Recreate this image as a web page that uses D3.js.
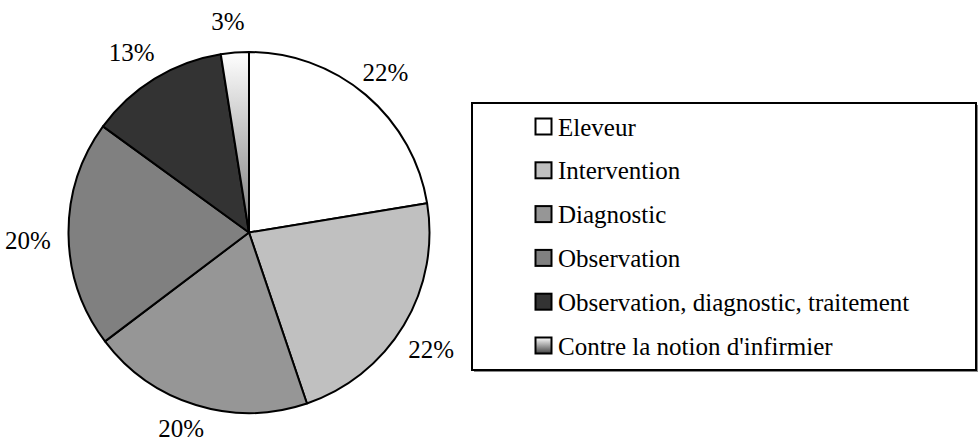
<html><head><meta charset="utf-8"><script src="https://d3js.org/d3.v7.min.js"></script></head>
<body style="margin:0">
<script>
  var width = 978;
  var height = 441;

  // data
  var categories = ["Eleveur", "Intervention", "Diagnostic", "Observation",
                    "Observation, diagnostic, traitement", "Contre la notion d'infirmier"];
  var values = [22.4, 22.4, 19.9, 20.3, 12.5, 2.5];
  var fills = ["#ffffff", "#c0c0c0", "#969696", "#808080", "#333333", "url(#gradSlice)"];
  var legendFills = ["#ffffff", "#c0c0c0", "#969696", "#808080", "#333333", "url(#gradKey)"];

  var font = "'Times New Roman', 'Liberation Serif', Tinos, serif";

  var svg = d3.select("body")
    .append("svg")
    .attr("width", width)
    .attr("height", height)
    .style("font-family", font);

  var defs = svg.append("defs");
  var g1 = defs.append("linearGradient").attr("id", "gradSlice")
    .attr("x1", 0).attr("y1", 0).attr("x2", 0).attr("y2", 1);
  g1.append("stop").attr("offset", "0%").attr("stop-color", "#ffffff");
  g1.append("stop").attr("offset", "100%").attr("stop-color", "#7a7a7a");
  var g2 = defs.append("linearGradient").attr("id", "gradKey")
    .attr("x1", 0).attr("y1", 0).attr("x2", 0).attr("y2", 1);
  g2.append("stop").attr("offset", "0%").attr("stop-color", "#ffffff");
  g2.append("stop").attr("offset", "100%").attr("stop-color", "#444444");

  var cx = 249, cy = 232.5, r = 180.5;

  var pie = d3.pie().sort(null).value(function(d) { return d; });
  var arc = d3.arc().innerRadius(0).outerRadius(r);
  var labelArc = d3.arc().innerRadius(217).outerRadius(217);

  var arcs = pie(values);

  svg.selectAll("path.slice")
    .data(arcs)
    .enter().append("path")
      .attr("class", "slice")
      .attr("transform", "translate(" + cx + "," + cy + ")")
      .attr("d", arc)
      .attr("fill", function(d, i) { return fills[i]; })
      .attr("stroke", "#000")
      .attr("stroke-width", 2)
      .attr("stroke-linejoin", "round");

  // percent labels, appended straight to the svg
  svg.selectAll("text.pct")
    .data(arcs)
    .enter().append("text")
      .attr("class", "pct")
      .attr("x", function(d) { return cx + labelArc.centroid(d)[0] - 4; })
      .attr("y", function(d) { return Math.min(cy + labelArc.centroid(d)[1] + 14, height - 4); })
      .attr("text-anchor", "middle")
      .style("font-family", font)
      .style("font-size", "25px")
      .text(function(d) { return Math.round(d.value) + "%"; });

  // legend
  var lx = 472, ly = 103, lw = 504, lh = 267;
  svg.append("rect")
    .attr("x", lx + 2).attr("y", ly + 2).attr("width", lw).attr("height", lh)
    .attr("fill", "#888");
  svg.append("rect")
    .attr("x", lx).attr("y", ly).attr("width", lw).attr("height", lh)
    .attr("fill", "#fff").attr("stroke", "#000").attr("stroke-width", 2);

  var rowY = d3.scalePoint().domain(categories).range([126.5, 345.5]);

  svg.selectAll("rect.key")
    .data(categories)
    .enter().append("rect")
      .attr("class", "key")
      .attr("x", 535.5).attr("y", function(d) { return rowY(d) - 8; })
      .attr("width", 16).attr("height", 16)
      .attr("fill", function(d, i) { return legendFills[i]; })
      .attr("stroke", "#000").attr("stroke-width", 2);

  svg.selectAll("text.key")
    .data(categories)
    .enter().append("text")
      .attr("class", "key")
      .attr("x", 558).attr("y", function(d) { return rowY(d) + 9; })
      .style("font-family", font)
      .style("font-size", "25px")
      .text(function(d) { return d; });
</script>
</body></html>
